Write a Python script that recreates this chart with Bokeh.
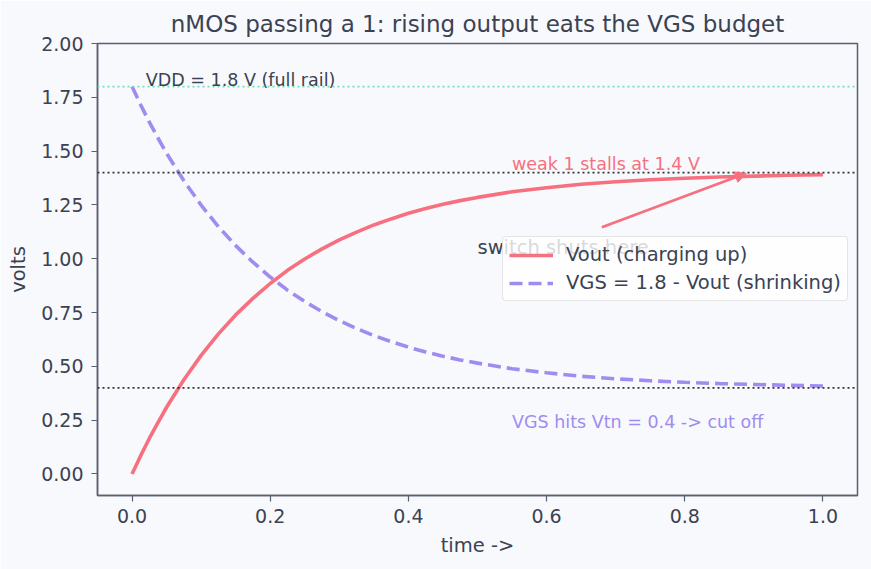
from bokeh.plotting import figure
from bokeh.models import (ColumnDataSource, Span, Label, Arrow, NormalHead,
                          Legend, LegendItem, FixedTicker, NumeralTickFormatter, Range1d)
from bokeh.embed import file_html
from bokeh.resources import INLINE

# ---- data ----
t_vals = [0.0, 0.0125, 0.025, 0.0375, 0.05, 0.075, 0.1, 0.125, 0.15, 0.175, 0.2, 0.225, 0.25,
          0.275, 0.3, 0.325, 0.35, 0.375, 0.4, 0.425, 0.45, 0.475, 0.5, 0.55, 0.6, 0.65,
          0.7, 0.75, 0.8, 0.85, 0.9, 0.95, 1.0]
vout_vals = [0.0, 0.085, 0.165, 0.239, 0.310, 0.438, 0.551, 0.651, 0.739, 0.816, 0.885,
             0.946, 0.999, 1.046, 1.088, 1.124, 1.157, 1.185, 1.211, 1.233, 1.253, 1.270,
             1.285, 1.311, 1.330, 1.346, 1.358, 1.367, 1.374, 1.380, 1.384, 1.388, 1.391]
vgs_vals = [1.800, 1.715, 1.635, 1.561, 1.490, 1.362, 1.249, 1.149, 1.061, 0.984, 0.915,
            0.854, 0.801, 0.754, 0.712, 0.676, 0.643, 0.615, 0.589, 0.567, 0.547, 0.530,
            0.515, 0.489, 0.470, 0.454, 0.442, 0.433, 0.426, 0.420, 0.416, 0.412, 0.409]
vdd = 1.8
v_stall = 1.4
vtn = 0.4
x_ticks = [0.0, 0.2, 0.4, 0.6, 0.8, 1.0]
y_ticks = [0.0, 0.25, 0.5, 0.75, 1.0, 1.25, 1.5, 1.75, 2.0]

BG = "#f8f9fc"
TXT = "#3b4252"
AX = "#5b6070"
PINK = "#f7707f"
LAV = "#a08cf0"
TEAL = "#72e0bf"
FONT = "DejaVu Sans"

src = ColumnDataSource(dict(t=t_vals, vout=vout_vals, vgs=vgs_vals))

p = figure(width=871, height=569, output_backend="svg", toolbar_location=None,
           x_range=Range1d(-0.05, 1.05), y_range=Range1d(-0.1, 2.0),
           min_border_left=97, min_border_right=14, min_border_top=43, min_border_bottom=74,
           background_fill_color=BG, border_fill_color=BG,
           title="nMOS passing a 1: rising output eats the VGS budget")
p.title.align = "center"
p.title.text_font = FONT
p.title.text_font_size = "23px"
p.title.text_font_style = "normal"
p.title.text_color = TXT
p.title.standoff = 14

p.xgrid.visible = False
p.ygrid.visible = False
p.outline_line_color = AX
p.outline_line_width = 1.5

for ax in (p.xaxis[0], p.yaxis[0]):
    ax.axis_line_color = AX
    ax.axis_line_width = 1.5
    ax.major_tick_line_color = AX
    ax.major_tick_line_width = 1.2
    ax.major_tick_in = 0
    ax.major_tick_out = 6
    ax.minor_tick_line_color = None
    ax.major_label_text_font = FONT
    ax.major_label_text_font_size = "19px"
    ax.major_label_text_color = TXT
    ax.axis_label_text_font = FONT
    ax.axis_label_text_font_size = "19.5px"
    ax.axis_label_text_font_style = "normal"
    ax.axis_label_text_color = TXT
    ax.axis_label_standoff = 8

p.yaxis.major_label_standoff = 8
p.xaxis.major_label_standoff = 7
p.xaxis.ticker = FixedTicker(ticks=x_ticks)
p.yaxis.ticker = FixedTicker(ticks=y_ticks)
p.xaxis.formatter = NumeralTickFormatter(format="0.0")
p.yaxis.formatter = NumeralTickFormatter(format="0.00")
p.xaxis.axis_label = "time ->"
p.yaxis.axis_label = "volts"

# reference lines
p.add_layout(Span(location=vdd, dimension="width", line_color=TEAL, line_width=1.8, line_dash="2 3"))
p.add_layout(Span(location=v_stall, dimension="width", line_color="#333333", line_width=1.6, line_dash="2 3"))
p.add_layout(Span(location=vtn, dimension="width", line_color="#333333", line_width=1.6, line_dash="2 3"))

r1 = p.line("t", "vout", source=src, line_color=PINK, line_width=3.6)
r2 = p.line("t", "vgs", source=src, line_color=LAV, line_width=3.6, line_dash="13 6")

# annotations
p.add_layout(Label(x=0.02, y=1.83, text="VDD = 1.8 V (full rail)", text_font=FONT,
                   text_font_size="17.5px", text_color=TXT, text_baseline="alphabetic"))
p.add_layout(Label(x=0.55, y=1.44, text="weak 1 stalls at 1.4 V", text_font=FONT,
                   text_font_size="17.5px", text_color=PINK, text_baseline="alphabetic"))
p.add_layout(Label(x=0.55, y=0.24, text="VGS hits Vtn = 0.4 -> cut off", text_font=FONT,
                   text_font_size="17.5px", text_color=LAV, text_baseline="alphabetic"))
p.add_layout(Label(x=0.50, y=1.05, text="switch shuts here", text_font=FONT,
                   text_font_size="19.5px", text_color=TXT, text_baseline="alphabetic"))
p.add_layout(Arrow(x_start=0.68, y_start=1.146, x_end=0.889, y_end=1.397,
                   line_color=PINK, line_width=2.8,
                   end=NormalHead(size=11, fill_color=PINK, line_color=PINK)))

legend = Legend(items=[LegendItem(label="Vout (charging up)", renderers=[r1]),
                       LegendItem(label="VGS = 1.8 - Vout (shrinking)", renderers=[r2])],
                location=(405, 194))
legend.label_text_font = FONT
legend.label_text_font_size = "19.5px"
legend.label_text_color = TXT
legend.glyph_width = 44
legend.label_standoff = 13
legend.padding = 6
legend.spacing = 5
legend.margin = 0
legend.background_fill_color = "white"
legend.background_fill_alpha = 0.8
legend.border_line_color = "#cccccc"
legend.border_line_width = 1
legend.border_radius = 4
p.add_layout(legend)

open("out.html", "w").write(file_html(p, INLINE))
